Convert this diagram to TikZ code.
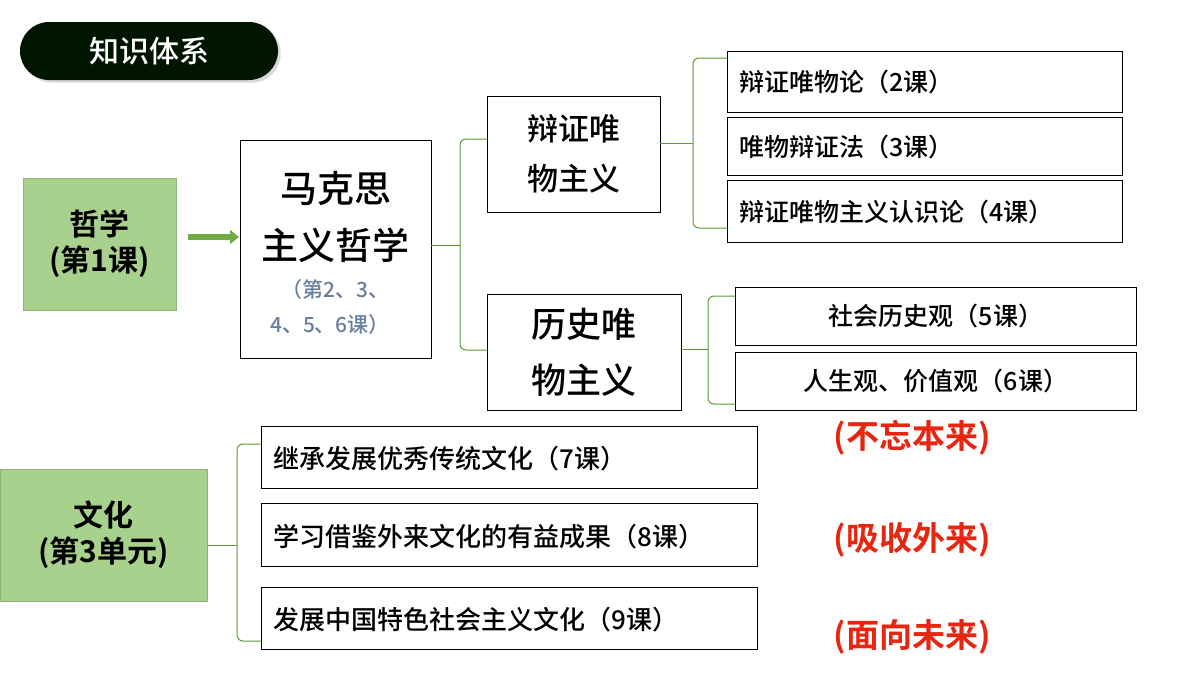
\documentclass[tikz,border=0pt]{standalone}
\usepackage{fontspec}
\setmainfont{Noto Sans CJK SC Medium}
\newfontfamily\cjkb{Noto Sans CJK SC Bold}
\usetikzlibrary{arrows.meta,shadows}
\definecolor{gfill}{HTML}{A9D18E}
\definecolor{gline}{HTML}{70AD47}
\definecolor{brc}{HTML}{5B9B3A}
\definecolor{subc}{HTML}{6A7E9E}
\definecolor{redc}{HTML}{E8260F}
\tikzset{
 box/.style={draw=black,line width=0.8pt,fill=white,inner sep=0pt},
 gbox/.style={fill=gfill,draw=gfill!85!black,line width=0.6pt},
 br/.style={draw=brc,line width=1pt,rounded corners=6pt},
 redt/.style={text=redc,font=\cjkb\fontsize{33}{35}\selectfont}
}
\begin{document}
\begin{tikzpicture}[x=1pt,y=-1pt]
\useasboundingbox (0,0) rectangle (1200,675);
% title
\node[fill=black!88!green!70!black,rounded corners=29pt,minimum width=258pt,minimum height=58pt,text=white,font=\fontsize{30}{32}\selectfont,drop shadow={opacity=0.3}] (title) at (149,51) {知识体系};
% philosophy
\node[gbox,minimum width=153pt,minimum height=132pt,align=center,font=\cjkb\fontsize{30}{36}\selectfont] (zx) at (99.5,244) {哲学\\(第1课)};
\node[box,minimum width=191pt,minimum height=218pt] (mk) at (335.5,249) {};
\node[font=\fontsize{37}{40}\selectfont] (mk1) at (335.5,188) {马克思};
\node[font=\fontsize{37}{40}\selectfont] (mk2) at (335.5,245) {主义哲学};
\node[font=\fontsize{21}{22}\selectfont,text=subc] (mk3) at (335.5,290) {（第2、3、};
\node[font=\fontsize{21}{22}\selectfont,text=subc] (mk4) at (330,325) {4、5、6课）};
\coordinate (ar0) at (188,237);
\coordinate (ar1) at (239,237);
\draw[gline,line width=6pt,-{Triangle[length=9pt,width=14pt]}] (ar0) -- (ar1);
\node[box,minimum width=173pt,minimum height=116pt,align=center,font=\fontsize{31}{50}\selectfont] (bz) at (573.5,154) {辩证唯\\物主义};
\node[box,minimum width=194pt,minimum height=116pt,align=center,font=\fontsize{35}{56}\selectfont] (ls) at (584,352) {历史唯\\物主义};
\coordinate (m1) at (460,245);
\draw[br] (487,139) -| (m1) |- (487,350);
\draw[br] (431,245) -- (m1);
% dialectical
\node[box,minimum width=395pt,minimum height=61pt,anchor=north west] (d1) at (727,51) {};
\node[anchor=west,font=\fontsize{25}{26}\selectfont] at (736,82) {辩证唯物论（2课）};
\node[box,minimum width=395pt,minimum height=58pt,anchor=north west] (d2) at (727,117) {};
\node[anchor=west,font=\fontsize{25}{26}\selectfont] at (736,147) {唯物辩证法（3课）};
\node[box,minimum width=395pt,minimum height=62pt,anchor=north west] (d3) at (727,180) {};
\node[anchor=west,font=\fontsize{25}{26}\selectfont] at (736,212) {辩证唯物主义认识论（4课）};
\coordinate (m2) at (693,143);
\draw[br] (727,58) -| (m2) |- (727,228);
\draw[br] (660,143) -- (m2);
% historical
\node[box,minimum width=401pt,minimum height=58pt,anchor=north west,font=\fontsize{25}{26}\selectfont] (h1) at (735,287) {社会历史观（5课）};
\node[box,minimum width=401pt,minimum height=58pt,anchor=north west,font=\fontsize{25}{26}\selectfont] (h2) at (735,352) {人生观、价值观（6课）};
\coordinate (m3) at (708,349);
\draw[br] (735,296) -| (m3) |- (735,404);
\draw[br] (681,349) -- (m3);
% culture
\node[gbox,minimum width=207pt,minimum height=132pt,align=center,font=\cjkb\fontsize{30}{36}\selectfont] (wh) at (103.5,535) {文化\\(第3单元)};
\node[box,minimum width=496pt,minimum height=62pt,anchor=north west] (c1) at (261,426) {};
\node[anchor=west,font=\fontsize{26}{27}\selectfont] at (270,459) {继承发展优秀传统文化（7课）};
\node[box,minimum width=496pt,minimum height=63pt,anchor=north west] (c2) at (261,503) {};
\node[anchor=west,font=\fontsize{26}{27}\selectfont] at (270,537) {学习借鉴外来文化的有益成果（8课）};
\node[box,minimum width=496pt,minimum height=62pt,anchor=north west] (c3) at (261,587) {};
\node[anchor=west,font=\fontsize{26}{27}\selectfont] at (270,620) {发展中国特色社会主义文化（9课）};
\coordinate (m4) at (237,545);
\draw[br] (261,444) -| (m4) |- (261,641);
\draw[br] (207,545) -- (m4);
\node[redt] (r1) at (912,438) {(不忘本来)};
\node[redt] (r2) at (912,540) {(吸收外来)};
\node[redt] (r3) at (912,637) {(面向未来)};
\end{tikzpicture}
\end{document}
